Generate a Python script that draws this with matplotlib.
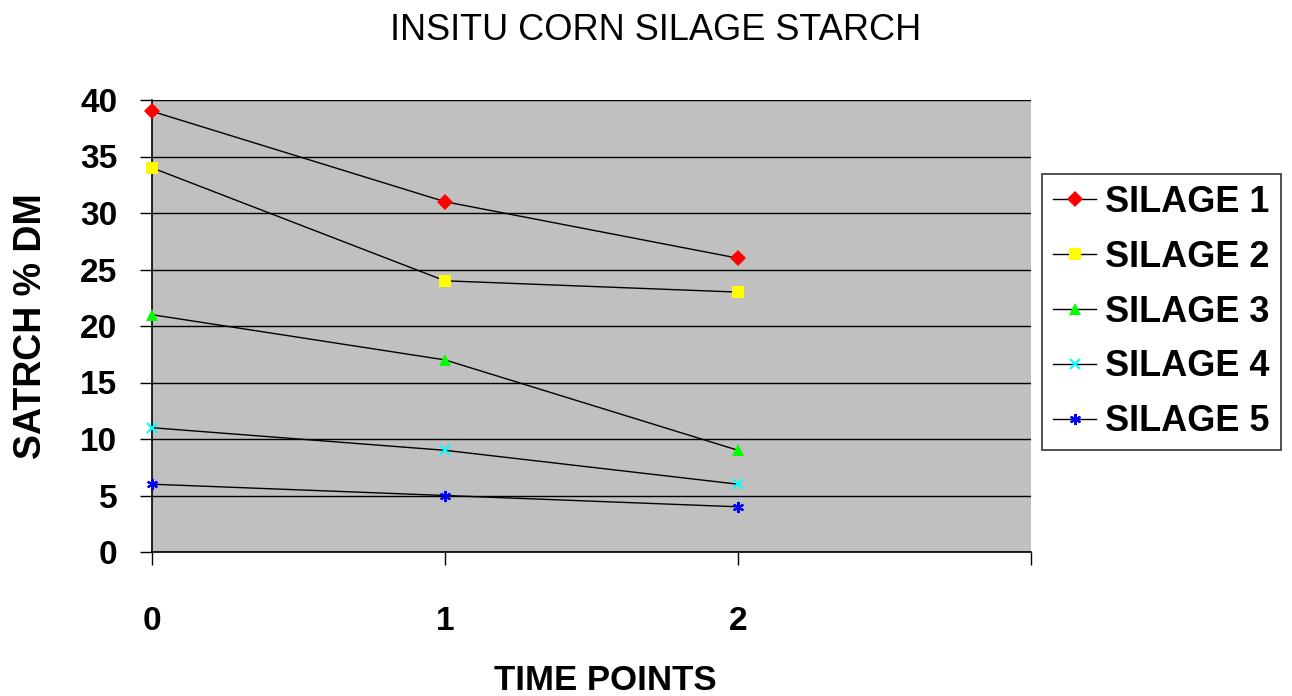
import matplotlib.pyplot as plt

plt.rcParams['font.family'] = ['Liberation Sans', 'DejaVu Sans']

time_points = [0, 1, 2]
silage_1 = [39, 31, 26]
silage_2 = [34, 24, 23]
silage_3 = [21, 17, 9]
silage_4 = [11, 9, 6]
silage_5 = [6, 5, 4]
names = ['SILAGE 1', 'SILAGE 2', 'SILAGE 3', 'SILAGE 4', 'SILAGE 5']

fig = plt.figure(figsize=(12.92, 6.96), dpi=100)
ax = fig.add_axes([152 / 1292, 1 - 552 / 696, 879 / 1292, 452 / 696])
ax.set_facecolor('#c0c0c0')

styles = [('D', '#ff0000', 8), ('s', '#ffff00', 8), ('^', '#00ff00', 9),
          ('x', '#00ffff', 7), ((6, 2, 0), '#0000ff', 8)]
series = [silage_1, silage_2, silage_3, silage_4, silage_5]
for vals, name, (m, c, ms) in zip(series, names, styles):
    line_marker = m in ('x',) if isinstance(m, str) else True
    ax.plot(time_points, vals, color='black', lw=1, marker=m, markersize=ms,
            markerfacecolor=c, markeredgecolor=c,
            markeredgewidth=1.5 if line_marker else 0,
            label=name, clip_on=False, zorder=3)

ax.set_xlim(0, 3)
ax.set_ylim(0, 40)
ax.set_yticks(range(0, 41, 5))
ax.set_xticks([0, 1, 2, 3])
ax.set_xticklabels(['0', '1', '2', ''])
ax.yaxis.grid(True, color='black', lw=1)
ax.set_axisbelow(True)
for s in ['top', 'right']:
    ax.spines[s].set_visible(False)
ax.spines['left'].set_linewidth(1.2)
ax.spines['bottom'].set_linewidth(1.2)

ax.tick_params(axis='y', length=9, width=1, pad=16, labelsize=24)
ax.tick_params(axis='x', length=9, width=1, pad=30, labelsize=24)
for lab in ax.get_xticklabels() + ax.get_yticklabels():
    lab.set_fontweight('bold')

ax.set_xlabel('TIME POINTS', fontsize=25, fontweight='bold')
ax.xaxis.set_label_coords((605 - 152) / 879, -(664 - 552) / 452)
ax.set_ylabel('SATRCH % DM', fontsize=27, fontweight='bold', labelpad=22)
fig.text(656 / 1292, 1 - 30 / 696, 'INSITU CORN SILAGE STARCH', ha='center', va='center', fontsize=26)

leg = ax.legend(loc='center left', bbox_to_anchor=(1042 / 1292, 1 - 312 / 696),
                bbox_transform=fig.transFigure, frameon=True, fancybox=False,
                edgecolor='black', fontsize=26, handlelength=1.2, labelspacing=0.55,
                borderpad=0.3, handletextpad=0.25, borderaxespad=0)
for t in leg.get_texts():
    t.set_fontweight('bold')
leg.get_frame().set_linewidth(1.2)

fig.savefig('out.png', dpi=100)
